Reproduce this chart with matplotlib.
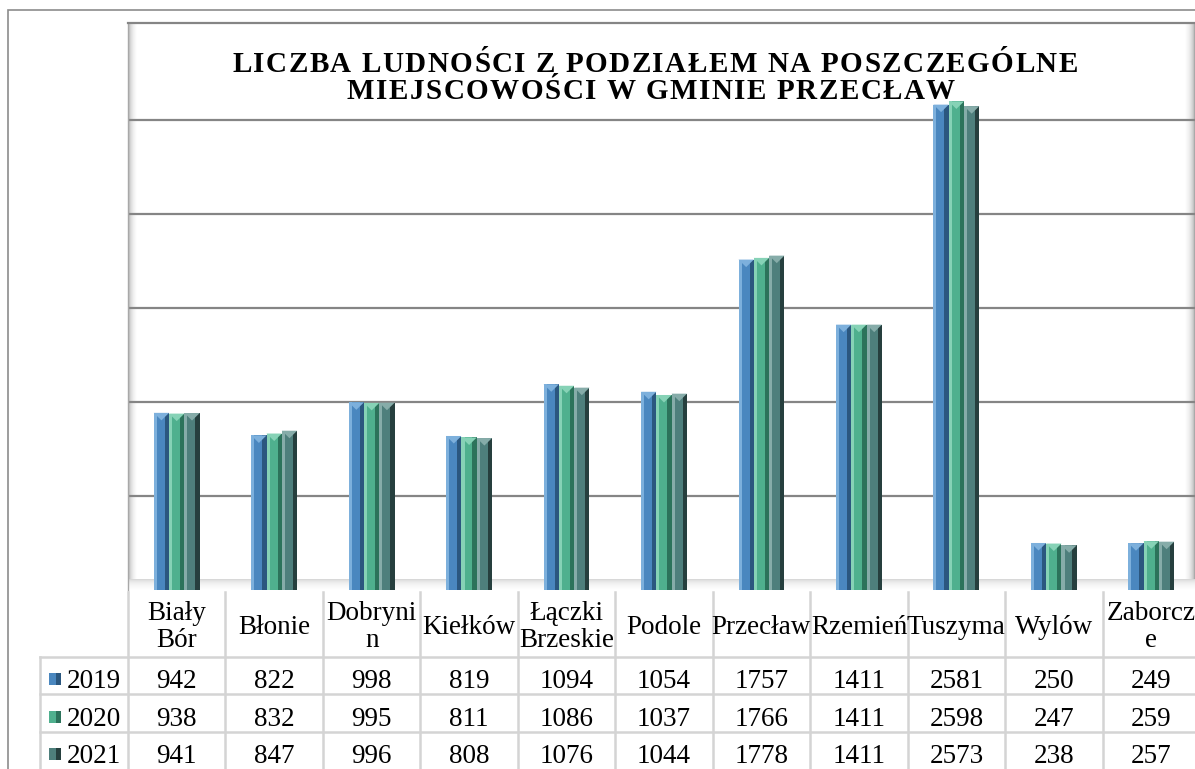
import numpy as np
import matplotlib
matplotlib.use("Agg")
import matplotlib.pyplot as plt
from matplotlib.patches import Rectangle, Polygon
from matplotlib import transforms

# data
places = ["Biały\nBór", "Błonie", "Dobryni\nn", "Kiełków", "Łączki\nBrzeskie", "Podole",
          "Przecław", "Rzemień", "Tuszyma", "Wylów", "Zaborcz\ne"]
years = ["2019", "2020", "2021"]
pop_2019 = [942, 822, 998, 819, 1094, 1054, 1757, 1411, 2581, 250, 249]
pop_2020 = [938, 832, 995, 811, 1086, 1037, 1766, 1411, 2598, 247, 259]
pop_2021 = [941, 847, 996, 808, 1076, 1044, 1778, 1411, 2573, 238, 257]
series = [pop_2019, pop_2020, pop_2021]

title_lines = ["LICZBA LUDNOŚCI Z PODZIAŁEM NA POSZCZEGÓLNE",
               "MIEJSCOWOŚCI W GMINIE PRZECŁAW"]

# base, light edge, dark edge
colors = [("#4a87bf", "#7db0dc", "#2b577f"),
          ("#4fb08e", "#86d2b6", "#2c735b"),
          ("#4e7f7c", "#86aca9", "#263f3e")]

W, H = 1195, 769
SERIF = "Liberation Serif"
FS = 19.5


def fx(px):
    return px / W


def fy(py):
    return 1 - py / H


fig = plt.figure(figsize=(W / 100, H / 100), dpi=100)
fig.patch.set_facecolor("white")

# outer chart frame
fig.add_artist(Rectangle((fx(8), fy(780)), fx(1300), (780 - 10) / H,
                         transform=fig.transFigure, fill=False,
                         edgecolor="#8c8c8c", lw=1.2))

ax = fig.add_axes([fx(128), fy(590), (1200 - 128) / W, (590 - 23) / H])
ax.set_xlim(-0.5, 10.5)
ax.set_ylim(0, 3015)
ax.set_yticks([500, 1000, 1500, 2000, 2500])
ax.set_xticks([])
ax.tick_params(left=False, labelleft=False)
ax.grid(axis="y", color="#858585", lw=1.6, zorder=1)
for s in ["right", "bottom"]:
    ax.spines[s].set_visible(False)
ax.spines["top"].set_color("#858585")
ax.spines["top"].set_linewidth(1.6)
ax.spines["left"].set_color("#a8a8a8")
ax.spines["left"].set_linewidth(1.0)

# walls and floor shading
grad = np.linspace(0, 1, 50) ** 0.6
ax.imshow(grad[None, :], extent=(0, 8 / 1072, 0, 1), transform=ax.transAxes,
          cmap="Greys_r", vmin=-1.0, vmax=1, aspect="auto", zorder=1.5)
ax.imshow(grad[::-1][None, :], extent=(1057 / 1072, 1067 / 1072, 0, 1),
          transform=ax.transAxes, cmap="Greys_r", vmin=-1.0, vmax=1,
          aspect="auto", zorder=1.5)
ax.imshow(grad[:, None], extent=(0, 1067 / 1072, 0, 11 / 567), transform=ax.transAxes,
          cmap="Greys_r", vmin=-2.5, vmax=1, aspect="auto", zorder=1.5)
ax.set_aspect("auto")

# title (letter spaced, drawn behind the bars)
fig.canvas.draw()
renderer = fig.canvas.get_renderer()


def spaced_line(text, cx, base_y, size, gap):
    widths = []
    for ch in text:
        t = fig.text(0, 0, ch if ch != " " else "a a", fontsize=size,
                     family=SERIF, weight="bold")
        w = t.get_window_extent(renderer).width
        if ch == " ":
            t2 = fig.text(0, 0, "aa", fontsize=size, family=SERIF, weight="bold")
            w = w - t2.get_window_extent(renderer).width
            t2.remove()
        t.remove()
        widths.append(w)
    total = sum(widths) + gap * (len(text) - 1)
    x = cx - total / 2
    for ch, w in zip(text, widths):
        fig.text(fx(x), fy(base_y), ch, fontsize=size, family=SERIF,
                 weight="bold", ha="left", va="baseline", zorder=0.5)
        x += w + gap


spaced_line(title_lines[0], 655, 72, 21, 1.5)
spaced_line(title_lines[1], 651, 99, 21, 1.5)
ax.set_zorder(2)
ax.patch.set_alpha(0)

# bars
x = np.arange(len(places))
bw = 0.157
for k, vals in enumerate(series):
    base, light, dark = colors[k]
    xs = x + (k - 1) * bw
    ax.bar(xs, vals, width=bw, color=base, zorder=3)
    ax.bar(xs - bw / 2, vals, width=bw * 0.2, align="edge", color=light, zorder=3.1)
    ax.bar(xs + bw / 2 - bw * 0.28, vals, width=bw * 0.28, align="edge",
           color=dark, zorder=3.1)
    for xi, v in zip(xs, vals):
        ax.add_patch(Polygon([(xi - bw / 2, v), (xi + bw / 2, v), (xi, v - 40)],
                             closed=True, color=light, zorder=3.2, lw=0))

# data table below
tr = transforms.blended_transform_factory(ax.transData, fig.transFigure)
line_kw = dict(color="#d4d4d4", lw=1.8, zorder=1)
header_top, header_bot = 592, 657
row_edges = [657, 694, 732, 769]
row_base = [688, 726, 763]
for i in range(len(places) + 1):
    fig.add_artist(plt.Line2D([i - 0.5, i - 0.5], [fy(header_top), fy(780)],
                              transform=tr, **line_kw))
fig.add_artist(plt.Line2D([fx(40), fx(40)], [fy(header_bot), fy(780)],
                          transform=fig.transFigure, **line_kw))
for ry in row_edges[:-1]:
    fig.add_artist(plt.Line2D([fx(40), fx(1300)], [fy(ry), fy(ry)],
                              transform=fig.transFigure, **line_kw))

for i, name in enumerate(places):
    fig.text(i, fy(627), name, transform=tr,
             ha="center", va="center", fontsize=FS, family=SERIF,
             linespacing=1.1)

for r, (yr, vals) in enumerate(zip(years, series)):
    by = row_base[r]
    for i, v in enumerate(vals):
        fig.text(i, fy(by), str(v), transform=tr, ha="center", va="baseline",
                 fontsize=FS, family=SERIF)
    base, light, dark = colors[r]
    fig.add_artist(Rectangle((fx(49), fy(by - 3)), 12 / W, 12 / H,
                             transform=fig.transFigure, color=base, lw=0))
    fig.add_artist(Rectangle((fx(56), fy(by - 3)), 5 / W, 12 / H,
                             transform=fig.transFigure, color=dark, lw=0))
    fig.text(fx(67), fy(by), yr, ha="left", va="baseline", fontsize=FS, family=SERIF)

fig.savefig("out.png", dpi=100)
